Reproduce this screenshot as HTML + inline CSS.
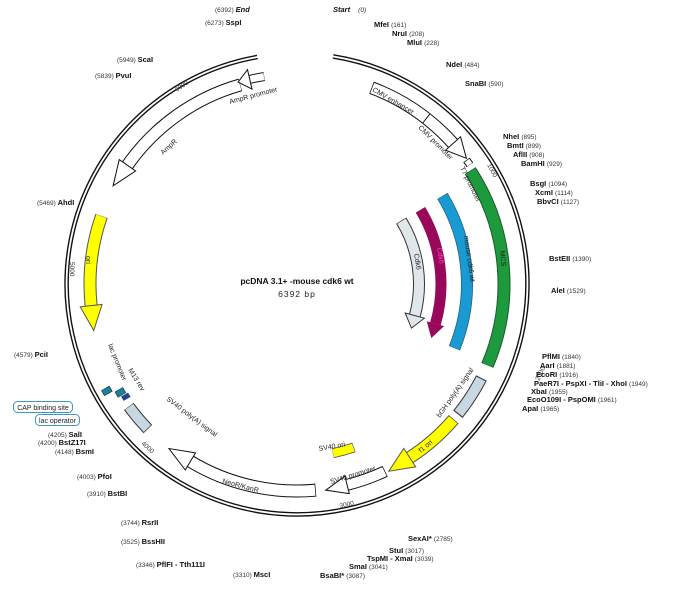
<!DOCTYPE html>
<html><head><meta charset="utf-8"><style>
html,body{margin:0;padding:0;background:#fff;}
svg{display:block;font-family:"Liberation Sans",sans-serif;}
.b{font-weight:bold;font-size:7.5px;fill:#111;}
.n{font-size:6.5px;fill:#333;font-weight:normal;}
.f{font-size:7px;fill:#222;}
</style></head><body>
<svg width="675" height="597" viewBox="0 0 675 597" xmlns="http://www.w3.org/2000/svg">
<g fill="none">
<!-- ring -->
<circle cx="297" cy="284" r="232" stroke="#111" stroke-width="1.4" stroke-dasharray="1380.8 3000" transform="rotate(-81 297 284)"/>
<circle cx="297" cy="284" r="228.8" stroke="#111" stroke-width="1.4" stroke-dasharray="1362 3000" transform="rotate(-81 297 284)"/>

<!-- MCS green -->
<circle cx="297" cy="284" r="207" stroke="#1b5a2a" stroke-width="13" stroke-dasharray="203.5 3000" transform="rotate(-33.2 297 284)"/>
<circle cx="297" cy="284" r="207" stroke="#1e9a3e" stroke-width="11" stroke-dasharray="202.3 3000" transform="rotate(-33 297 284)"/>
<!-- blue -->
<circle cx="297" cy="284" r="170" stroke="#1d5f80" stroke-width="12" stroke-dasharray="158.3 3000" transform="rotate(-31.2 297 284)"/>
<circle cx="297" cy="284" r="170" stroke="#1a9ad2" stroke-width="10.5" stroke-dasharray="157.3 3000" transform="rotate(-31 297 284)"/>
<!-- purple -->
<circle cx="297" cy="284" r="144" stroke="#98085a" stroke-width="11" stroke-dasharray="118.1 3000" transform="rotate(-31 297 284)"/>
<!-- gray cdk6 -->
<circle cx="297" cy="284" r="122" stroke="#333" stroke-width="12" stroke-dasharray="99 3000" transform="rotate(-31.3 297 284)"/>
<circle cx="297" cy="284" r="122" stroke="#dfe7eb" stroke-width="10" stroke-dasharray="97.9 3000" transform="rotate(-31 297 284)"/>
<!-- bGH -->
<circle cx="297" cy="284" r="207" stroke="#333" stroke-width="12" stroke-dasharray="43.4 3000" transform="rotate(27 297 284)"/>
<circle cx="297" cy="284" r="207" stroke="#c8d8e2" stroke-width="10" stroke-dasharray="41.2 3000" transform="rotate(27.3 297 284)"/>
<!-- f1 ori -->
<circle cx="297" cy="284" r="207" stroke="#555" stroke-width="13" stroke-dasharray="59 3000" transform="rotate(40.8 297 284)"/>
<circle cx="297" cy="284" r="207" stroke="#ffff00" stroke-width="11" stroke-dasharray="58 3000" transform="rotate(41 297 284)"/>
<!-- SV40 ori -->
<circle cx="297" cy="284" r="173" stroke="#555" stroke-width="10" stroke-dasharray="22 3000" transform="rotate(70.8 297 284)"/>
<circle cx="297" cy="284" r="173" stroke="#ffff00" stroke-width="8.4" stroke-dasharray="21.1 3000" transform="rotate(71 297 284)"/>
<!-- SV40 promoter -->
<circle cx="297" cy="284" r="207" stroke="#111" stroke-width="12" stroke-dasharray="40.8 3000" transform="rotate(64.8 297 284)"/>
<circle cx="297" cy="284" r="207" stroke="#fff" stroke-width="10" stroke-dasharray="40 3000" transform="rotate(65 297 284)"/>
<!-- NeoR -->
<circle cx="297" cy="284" r="207" stroke="#111" stroke-width="13" stroke-dasharray="131.2 3000" transform="rotate(84.8 297 284)"/>
<circle cx="297" cy="284" r="207" stroke="#fff" stroke-width="11" stroke-dasharray="130.1 3000" transform="rotate(85 297 284)"/>
<!-- SV40 polyA -->
<circle cx="297" cy="284" r="208" stroke="#333" stroke-width="12" stroke-dasharray="29.6 3000" transform="rotate(135.8 297 284)"/>
<circle cx="297" cy="284" r="208" stroke="#c8d8e2" stroke-width="10" stroke-dasharray="28.4 3000" transform="rotate(136 297 284)"/>
<!-- ori -->
<circle cx="297" cy="284" r="207" stroke="#555" stroke-width="13" stroke-dasharray="91 3000" transform="rotate(174 297 284)"/>
<circle cx="297" cy="284" r="207" stroke="#ffff00" stroke-width="11" stroke-dasharray="90.3 3000" transform="rotate(174.1 297 284)"/>
<!-- AmpR -->
<circle cx="297" cy="284" r="207" stroke="#111" stroke-width="13" stroke-dasharray="142 3000" transform="rotate(214.8 297 284)"/>
<circle cx="297" cy="284" r="207" stroke="#fff" stroke-width="11" stroke-dasharray="140.9 3000" transform="rotate(215 297 284)"/>
<!-- AmpR promoter tail -->
<circle cx="297" cy="284" r="210" stroke="#111" stroke-width="9" stroke-dasharray="15.5 3000" transform="rotate(256.8 297 284)"/>
<circle cx="297" cy="284" r="210" stroke="#fff" stroke-width="7" stroke-dasharray="14.5 3000" transform="rotate(257 297 284)"/>
<!-- CMV -->
<circle cx="297" cy="284" r="210" stroke="#111" stroke-width="13" stroke-dasharray="100 3000" transform="rotate(-69.2 297 284)"/>
<circle cx="297" cy="284" r="210" stroke="#fff" stroke-width="11" stroke-dasharray="99 3000" transform="rotate(-69 297 284)"/>
<!-- T7 -->
<circle cx="297" cy="284" r="210" stroke="#111" stroke-width="8" stroke-dasharray="6 3000" transform="rotate(-36.2 297 284)"/>
<circle cx="297" cy="284" r="210" stroke="#fff" stroke-width="6" stroke-dasharray="5 3000" transform="rotate(-36 297 284)"/>
</g>

<!-- arrowheads -->
<polygon points="297,131 312,140 297,149" fill="#98085a" transform="rotate(106 297 284)"/>
<polygon points="297,152 310,162 297,172" fill="#dfe7eb" stroke="#333" stroke-width="1" transform="rotate(105 297 284)"/>
<polygon points="297,66 322,77 297,88" fill="#ffff00" stroke="#555" stroke-width="1" transform="rotate(147 297 284)"/>
<polygon points="297,68 319,77 297,86" fill="#fff" stroke="#111" stroke-width="1" transform="rotate(166 297 284)"/>
<polygon points="297,67 322,77 297,87" fill="#fff" stroke="#111" stroke-width="1" transform="rotate(211 297 284)"/>
<polygon points="297,66 272,77 297,88" fill="#ffff00" stroke="#555" stroke-width="1" transform="rotate(264 297 284)"/>
<polygon points="297,67 272,77 297,87" fill="#fff" stroke="#111" stroke-width="1" transform="rotate(305 297 284)"/>
<polygon points="297,64 285,74 297,84" fill="#fff" stroke="#111" stroke-width="1" transform="rotate(347 297 284)"/>
<polygon points="297,64 317,74 297,84" fill="#fff" stroke="#111" stroke-width="1" transform="rotate(48 297 284)"/>
<line x1="297" y1="68" x2="297" y2="80" stroke="#111" stroke-width="1" transform="rotate(38 297 284)"/>

<!-- lac / M13 small features -->
<g transform="rotate(-30 115 392)">
<rect x="104" y="384" width="9" height="6" fill="#1f7f95" stroke="#134" stroke-width=".6"/>
<rect x="115" y="392" width="9" height="6" fill="#1f7f95" stroke="#134" stroke-width=".6"/>
<rect x="118" y="399" width="8" height="5" fill="#224488"/>
</g>

<!-- tick labels -->
<text class="n" transform="translate(177,92) rotate(-35)">6000</text>
<text class="n" transform="translate(487,165) rotate(62)">1000</text>
<text class="n" transform="translate(539,381) rotate(-65)">2000</text>
<text class="n" transform="translate(340,508) rotate(-12)">3000</text>
<text class="n" transform="translate(141,444) rotate(42)">4000</text>
<text class="n" transform="translate(70,262) rotate(90)">5000</text>

<!-- feature labels -->
<text class="f" transform="translate(372,91) rotate(30)">CMV enhancer</text>
<text class="f" transform="translate(418,128) rotate(45)">CMV promoter</text>
<text class="f" transform="translate(460,168) rotate(64)">T7 promoter</text>
<text class="f" transform="translate(500,251) rotate(85)">MCS</text>
<text class="f" transform="translate(464,236) rotate(82)">mouse cdk6 wt</text>
<text class="f" style="fill:#f4c" transform="translate(437,248) rotate(80)">Cdk6</text>
<text class="f" transform="translate(414,254) rotate(80)">Cdk6</text>
<text class="f" transform="translate(440,418) rotate(-55)">bGH poly(A) signal</text>
<text class="f" transform="translate(421,453) rotate(-40)">f1 ori</text>
<text class="f" transform="translate(319,451) rotate(-10)">SV40 ori</text>
<text class="f" transform="translate(331,484) rotate(-17)">SV40 promoter</text>
<text class="f" transform="translate(222,483) rotate(15)">NeoR/KanR</text>
<text class="f" transform="translate(166,400) rotate(37)">SV40 poly(A) signal</text>
<text class="f" transform="translate(128,370) rotate(58)">M13 rev</text>
<text class="f" transform="translate(108,345) rotate(68)">lac promoter</text>
<text class="f" transform="translate(86,256) rotate(90)">ori</text>
<text class="f" transform="translate(163,155) rotate(-42)">AmpR</text>
<text class="f" transform="translate(230,104) rotate(-15)">AmpR promoter</text>

<!-- center -->
<text x="297" y="284" text-anchor="middle" style="font-weight:bold;font-size:8.5px;fill:#111">pcDNA 3.1+ -mouse cdk6 wt</text>
<text x="297" y="297" text-anchor="middle" style="font-size:8.5px;fill:#222;letter-spacing:1px">6392 bp</text>

<!-- site labels right -->
<text x="215" y="12" class="n">(6392) <tspan class="b" font-style="italic">End</tspan></text>
<text x="205" y="25" class="n">(6273) <tspan class="b">SspI</tspan></text>
<text x="333" y="12" class="b" font-style="italic">Start <tspan class="n" dx="6">(0)</tspan></text>
<text x="374" y="27" class="b">MfeI <tspan class="n">(161)</tspan></text>
<text x="392" y="36" class="b">NruI <tspan class="n">(208)</tspan></text>
<text x="407" y="45" class="b">MluI <tspan class="n">(228)</tspan></text>
<text x="446" y="67" class="b">NdeI <tspan class="n">(484)</tspan></text>
<text x="465" y="86" class="b">SnaBI <tspan class="n">(590)</tspan></text>
<text x="503" y="139" class="b">NheI <tspan class="n">(895)</tspan></text>
<text x="507" y="148" class="b">BmtI <tspan class="n">(899)</tspan></text>
<text x="513" y="157" class="b">AflII <tspan class="n">(908)</tspan></text>
<text x="521" y="166" class="b">BamHI <tspan class="n">(929)</tspan></text>
<text x="530" y="186" class="b">BsgI <tspan class="n">(1094)</tspan></text>
<text x="535" y="195" class="b">XcmI <tspan class="n">(1114)</tspan></text>
<text x="537" y="204" class="b">BbvCI <tspan class="n">(1127)</tspan></text>
<text x="549" y="261" class="b">BstEII <tspan class="n">(1390)</tspan></text>
<text x="551" y="293" class="b">AleI <tspan class="n">(1529)</tspan></text>
<text x="542" y="359" class="b">PflMI <tspan class="n">(1840)</tspan></text>
<text x="540" y="368" class="b">AarI <tspan class="n">(1881)</tspan></text>
<text x="536" y="377" class="b">EcoRI <tspan class="n">(1916)</tspan></text>
<text x="534" y="386" class="b">PaeR7I - PspXI - TliI - XhoI <tspan class="n">(1949)</tspan></text>
<text x="531" y="394" class="b">XbaI <tspan class="n">(1955)</tspan></text>
<text x="527" y="402" class="b">EcoO109I - PspOMI <tspan class="n">(1961)</tspan></text>
<text x="522" y="411" class="b">ApaI <tspan class="n">(1965)</tspan></text>
<text x="408" y="541" class="b">SexAI* <tspan class="n">(2785)</tspan></text>
<text x="389" y="553" class="b">StuI <tspan class="n">(3017)</tspan></text>
<text x="367" y="561" class="b">TspMI - XmaI <tspan class="n">(3039)</tspan></text>
<text x="349" y="569" class="b">SmaI <tspan class="n">(3041)</tspan></text>
<text x="320" y="578" class="b">BsaBI* <tspan class="n">(3087)</tspan></text>

<!-- site labels left -->
<text x="233" y="577" class="n">(3310) <tspan class="b">MscI</tspan></text>
<text x="136" y="567" class="n">(3346) <tspan class="b">PflFI - Tth111I</tspan></text>
<text x="121" y="544" class="n">(3525) <tspan class="b">BssHII</tspan></text>
<text x="121" y="525" class="n">(3744) <tspan class="b">RsrII</tspan></text>
<text x="87" y="496" class="n">(3910) <tspan class="b">BstBI</tspan></text>
<text x="77" y="479" class="n">(4003) <tspan class="b">PfoI</tspan></text>
<text x="55" y="454" class="n">(4148) <tspan class="b">BsmI</tspan></text>
<text x="38" y="445" class="n">(4200) <tspan class="b">BstZ17I</tspan></text>
<text x="48" y="437" class="n">(4205) <tspan class="b">SalI</tspan></text>
<rect x="35.5" y="414.5" width="44" height="11" rx="4" fill="#fff" stroke="#3a9ac0" stroke-width="1"/>
<text x="57.5" y="423" text-anchor="middle" class="f">lac operator</text>
<rect x="13.5" y="401.5" width="59" height="11" rx="4" fill="#fff" stroke="#3a9ac0" stroke-width="1"/>
<text x="43" y="410" text-anchor="middle" class="f">CAP binding site</text>
<text x="14" y="357" class="n">(4579) <tspan class="b">PciI</tspan></text>
<text x="37" y="205" class="n">(5469) <tspan class="b">AhdI</tspan></text>
<text x="95" y="78" class="n">(5839) <tspan class="b">PvuI</tspan></text>
<text x="117" y="62" class="n">(5949) <tspan class="b">ScaI</tspan></text>
</svg>
</body></html>
